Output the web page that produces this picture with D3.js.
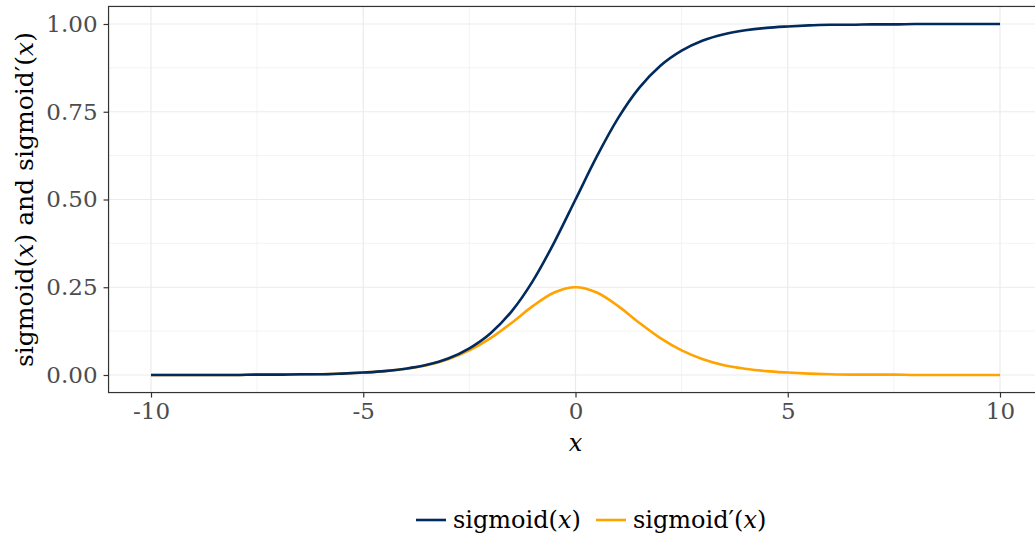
<!DOCTYPE html>
<html>
<head>
<meta charset="utf-8">
<script src="https://cdn.jsdelivr.net/npm/d3@7"></script>
<style>
  body { margin: 0; background: #fff; }
  text { font-family: "DejaVu Serif", serif; }
  .it { font-style: italic; }
</style>
</head>
<body>
<svg id="chart" width="1035" height="535"></svg>
<script>
// x values sampled along the curves
var xs = [-10, -9.5, -9, -8.5, -8, -7.5, -7, -6.5, -6, -5.5, -5, -4.5, -4, -3.5, -3, -2.5, -2, -1.5, -1, -0.5,
          0, 0.5, 1, 1.5, 2, 2.5, 3, 3.5, 4, 4.5, 5, 5.5, 6, 6.5, 7, 7.5, 8, 8.5, 9, 9.5, 10];

// sigmoid(x)
var sigmoidVals = [0.000, 0.000, 0.000, 0.000, 0.000, 0.001, 0.001, 0.002, 0.002, 0.004, 0.007, 0.011, 0.018, 0.029, 0.047, 0.076, 0.119, 0.182, 0.269, 0.378,
                   0.500, 0.622, 0.731, 0.818, 0.881, 0.924, 0.953, 0.971, 0.982, 0.989, 0.993, 0.996, 0.998, 0.998, 0.999, 0.999, 1.000, 1.000, 1.000, 1.000, 1.000];

// sigmoid'(x)
var derivVals = [0.000, 0.000, 0.000, 0.000, 0.000, 0.001, 0.001, 0.001, 0.002, 0.004, 0.007, 0.011, 0.018, 0.028, 0.045, 0.070, 0.105, 0.149, 0.197, 0.235,
                 0.250, 0.235, 0.197, 0.149, 0.105, 0.070, 0.045, 0.028, 0.018, 0.011, 0.007, 0.004, 0.002, 0.001, 0.001, 0.001, 0.000, 0.000, 0.000, 0.000, 0.000];

var xTicks = [-10, -5, 0, 5, 10];
var xMinor = [-7.5, -2.5, 2.5, 7.5];
var yTicks = [0, 0.25, 0.5, 0.75, 1];
var yMinor = [0.125, 0.375, 0.625, 0.875];

var navy = "#012a5e";
var orange = "#ffa300";
var serif = "'DejaVu Serif', serif";

var svg = d3.select("#chart");

var x = d3.scaleLinear().domain([-10, 10]).range([151, 1000]);
var y = d3.scaleLinear().domain([0, 1]).range([375, 24]);

var panel = {
    left: x(-11), right: x(11),
    top: y(1.05), bottom: y(-0.05)
};

// Minor grid lines
svg.selectAll(".xminor").data(xMinor).enter().append("line")
    .attr("x1", d => x(d)).attr("x2", d => x(d))
    .attr("y1", panel.top).attr("y2", panel.bottom)
    .attr("stroke", "#ebebeb").attr("stroke-width", 0.6);
svg.selectAll(".yminor").data(yMinor).enter().append("line")
    .attr("y1", d => y(d)).attr("y2", d => y(d))
    .attr("x1", panel.left).attr("x2", panel.right)
    .attr("stroke", "#ebebeb").attr("stroke-width", 0.6);

// Major grid lines
svg.selectAll(".xmajor").data(xTicks).enter().append("line")
    .attr("x1", d => x(d)).attr("x2", d => x(d))
    .attr("y1", panel.top).attr("y2", panel.bottom)
    .attr("stroke", "#ebebeb").attr("stroke-width", 1.2);
svg.selectAll(".ymajor").data(yTicks).enter().append("line")
    .attr("y1", d => y(d)).attr("y2", d => y(d))
    .attr("x1", panel.left).attr("x2", panel.right)
    .attr("stroke", "#ebebeb").attr("stroke-width", 1.2);

// Curves
var line = d3.line().curve(d3.curveMonotoneX);

svg.append("path")
    .attr("d", line(xs.map((v, i) => [x(v), y(derivVals[i])])))
    .attr("fill", "none").attr("stroke", orange).attr("stroke-width", 2.6);
svg.append("path")
    .attr("d", line(xs.map((v, i) => [x(v), y(sigmoidVals[i])])))
    .attr("fill", "none").attr("stroke", navy).attr("stroke-width", 2.6);

// Panel border
svg.append("rect")
    .attr("x", panel.left).attr("y", panel.top)
    .attr("width", panel.right - panel.left).attr("height", panel.bottom - panel.top)
    .attr("fill", "none").attr("stroke", "#333333").attr("stroke-width", 1.2);

// Axes
var xAxis = d3.axisBottom(x).tickValues(xTicks).tickFormat(d => String(d))
    .tickSizeInner(5).tickSizeOuter(0).tickPadding(5);
var gx = svg.append("g").attr("transform", "translate(0," + panel.bottom + ")").call(xAxis);
gx.select(".domain").remove();
gx.selectAll("line").attr("stroke", "#333333").attr("stroke-width", 1.2);
gx.selectAll("text").attr("fill", "#4d4d4d").style("font-size", "23px")
    .style("font-family", serif);

var yAxis = d3.axisLeft(y).tickValues(yTicks).tickFormat(d3.format(".2f"))
    .tickSizeInner(5).tickSizeOuter(0).tickPadding(6);
var gy = svg.append("g").attr("transform", "translate(" + panel.left + ",0)").call(yAxis);
gy.select(".domain").remove();
gy.selectAll("line").attr("stroke", "#333333").attr("stroke-width", 1.2);
gy.selectAll("text").attr("fill", "#4d4d4d").style("font-size", "23px")
    .style("font-family", serif);

// Axis titles
svg.append("text")
    .attr("class", "it")
    .attr("x", x(0)).attr("y", 451)
    .attr("text-anchor", "middle")
    .style("font-size", "24px")
    .text("x");

var yt = svg.append("text")
    .attr("transform", "translate(33," + ((panel.top + panel.bottom) / 2) + ") rotate(-90)")
    .attr("text-anchor", "middle")
    .style("font-size", "25px");
yt.append("tspan").text("sigmoid(");
yt.append("tspan").attr("class", "it").text("x");
yt.append("tspan").text(") and sigmoid\u2032(");
yt.append("tspan").attr("class", "it").text("x");
yt.append("tspan").text(")");

// Legend
var legendItems = [
    {color: navy, label: "sigmoid", x: 416},
    {color: orange, label: "sigmoid\u2032", x: 596}
];
var lg = svg.selectAll(".legend").data(legendItems).enter().append("g")
    .attr("transform", d => "translate(" + d.x + ",520)");
lg.append("line")
    .attr("x1", 0).attr("x2", 30).attr("y1", 0).attr("y2", 0)
    .attr("stroke", d => d.color).attr("stroke-width", 2.6);
var lt = lg.append("text")
    .attr("x", 37).attr("y", 8)
    .style("font-size", "24px");
lt.append("tspan").text(d => d.label + "(");
lt.append("tspan").attr("class", "it").text("x");
lt.append("tspan").text(")");
</script>
</body>
</html>
